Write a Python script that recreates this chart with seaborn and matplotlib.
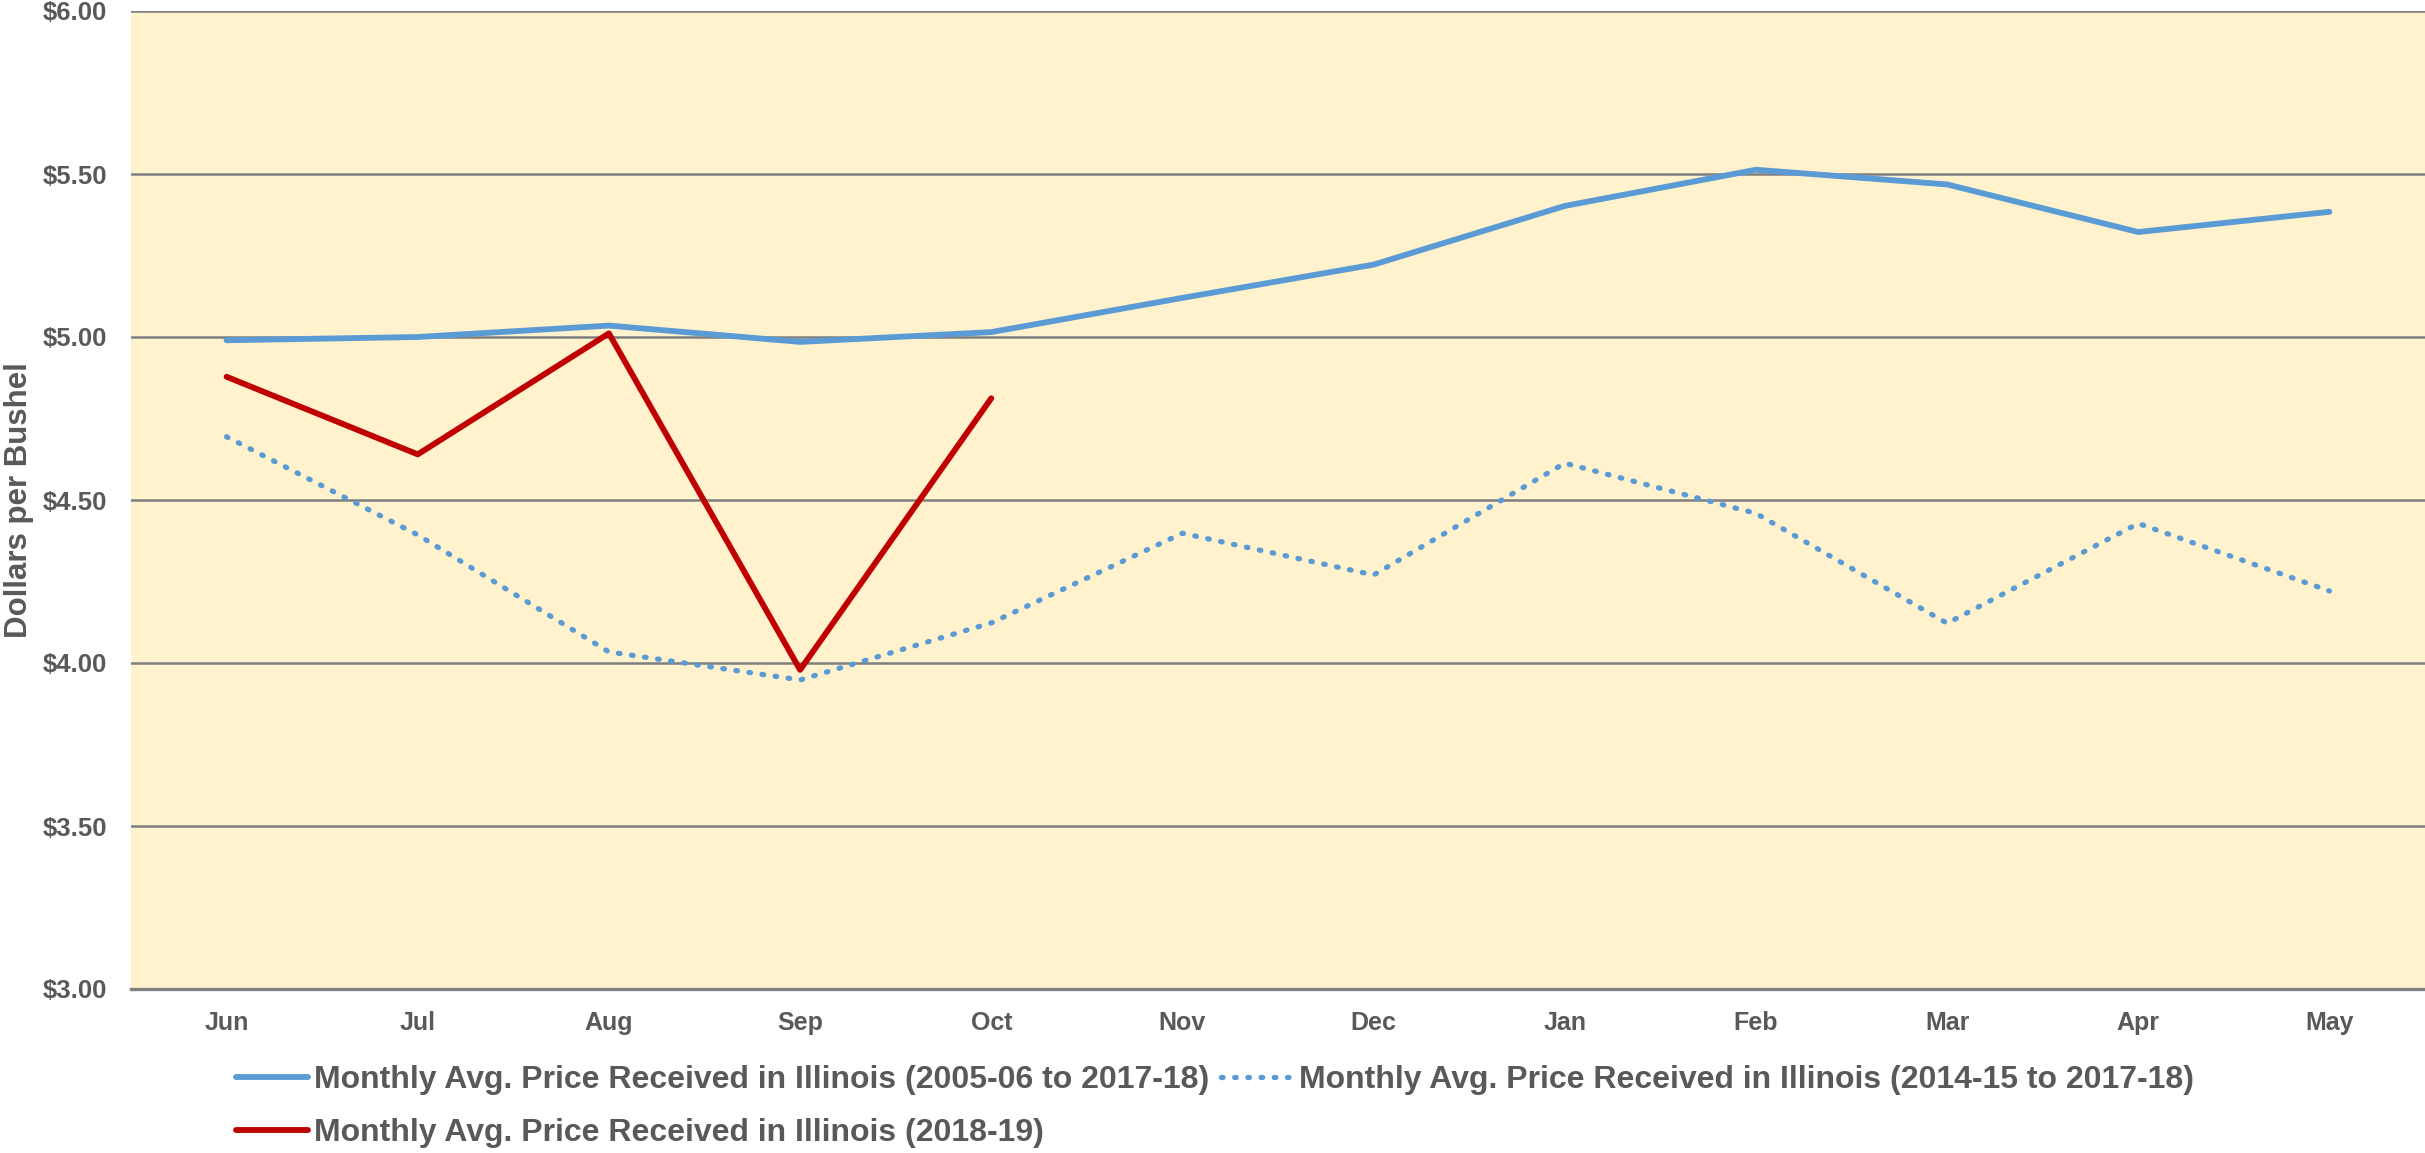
import numpy as np
import pandas as pd
import seaborn as sns
import matplotlib.pyplot as plt
from matplotlib.ticker import FixedLocator

# ---- data ----
months = ['Jun', 'Jul', 'Aug', 'Sep', 'Oct', 'Nov', 'Dec', 'Jan', 'Feb', 'Mar', 'Apr', 'May']
avg_2005_2018 = [4.99, 5.00, 5.035, 4.985, 5.015, 5.12, 5.222, 5.402, 5.513, 5.468, 5.322, 5.384]
avg_2014_2018 = [4.694, 4.393, 4.034, 3.948, 4.123, 4.398, 4.270, 4.613, 4.459, 4.122, 4.428, 4.221]
price_2018_19 = [4.878, 4.640, 5.011, 3.979, 4.812]

label_long = 'Monthly Avg. Price Received in Illinois (2005-06 to 2017-18)'
label_short = 'Monthly Avg. Price Received in Illinois (2014-15 to 2017-18)'
label_cur = 'Monthly Avg. Price Received in Illinois (2018-19)'

y_ticks = [3.0, 3.5, 4.0, 4.5, 5.0, 5.5, 6.0]

df_long = pd.DataFrame({'month': months, 'price': avg_2005_2018})
df_short = pd.DataFrame({'month': months, 'price': avg_2014_2018})
df_cur = pd.DataFrame({'month': months[:len(price_2018_19)], 'price': price_2018_19})

# ---- style ----
sns.set_theme(style='white')
plt.rcParams['font.family'] = ['Liberation Sans', 'DejaVu Sans']
plt.rcParams['font.weight'] = 'bold'
text_col = '#595959'
grid_col = '#7F7F7F'
blue = '#5B9BD5'
red = '#C00000'

fig = plt.figure(figsize=(24.25, 11.53), dpi=100)
ax = fig.add_axes([131 / 2425, 1 - 989 / 1153, 1 - 131 / 2425, (989 - 11) / 1153])
ax.set_facecolor('#FFF2CC')

for v in y_ticks[1:]:
    ax.axhline(v, color=grid_col, lw=1.8, zorder=1)

sns.lineplot(data=df_long, x='month', y='price', ax=ax, color=blue, lw=4.2,
             solid_capstyle='round', label=label_long, zorder=3, sort=False)
sns.lineplot(data=df_cur, x='month', y='price', ax=ax, color=red, lw=4.2,
             solid_capstyle='round', label=label_cur, zorder=4, sort=False)
sns.lineplot(data=df_short, x='month', y='price', ax=ax, color=blue, lw=3.8,
             linestyle=(0, (0.3, 2.2)), dash_capstyle='round', label=label_short,
             zorder=3, sort=False)

ax.set_xlim(-0.5, len(months) - 0.5)
ax.set_ylim(3.0, 6.0)
ax.set_yticks(y_ticks)
ax.set_yticklabels([f'${v:.2f}' for v in y_ticks])
ax.xaxis.set_minor_locator(FixedLocator(np.arange(-0.5, len(months), 1.0)))
ax.tick_params(axis='x', which='major', length=0, pad=16, labelsize=18, labelcolor=text_col)
ax.tick_params(axis='x', which='minor', length=6, width=2, color=grid_col, direction='out')
ax.tick_params(axis='y', length=0, pad=17, labelsize=18.5, labelcolor=text_col)
for lab in ax.get_xticklabels() + ax.get_yticklabels():
    lab.set_fontweight('bold')

ax.set_xlabel('')
ax.set_ylabel('Dollars per Bushel', fontsize=22.5, fontweight='bold', color=text_col)
ax.yaxis.set_label_coords(-0.0425, 0.5)

for side in ['top', 'right', 'left']:
    ax.spines[side].set_visible(False)
ax.spines['bottom'].set_color(grid_col)
ax.spines['bottom'].set_linewidth(2.4)

handles, labels = ax.get_legend_handles_labels()
ax.get_legend().remove()
order = [labels.index(label_long), labels.index(label_cur), labels.index(label_short)]
fig.legend([handles[i] for i in order], [labels[i] for i in order],
           loc='upper left', bbox_to_anchor=(220 / 2425, 1 - 1049 / 1153),
           ncol=2, frameon=False, handlelength=2.25,
           handletextpad=0.2, columnspacing=0.35, labelspacing=0.73,
           borderpad=0, labelcolor=text_col, prop={'weight': 'bold', 'size': 23})

fig.savefig('out.png', dpi=100)
